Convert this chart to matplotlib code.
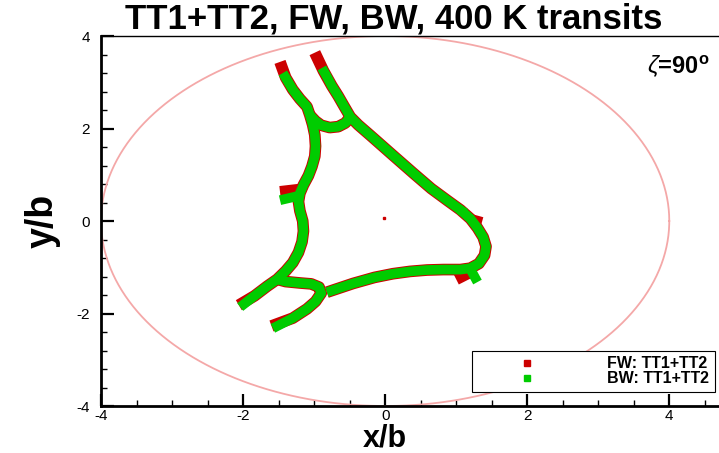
import matplotlib
matplotlib.use("Agg")
import matplotlib.pyplot as plt
import numpy as np
from matplotlib.ticker import MultipleLocator

plt.rcParams['font.family'] = ['Liberation Sans', 'DejaVu Sans']
plt.rcParams['axes.unicode_minus'] = False
plt.rcParams['mathtext.fontset'] = 'custom'
plt.rcParams['mathtext.rm'] = 'Liberation Sans:bold'
plt.rcParams['mathtext.it'] = 'Liberation Sans:italic'

# boundary circle, radius in units of b
circle_r = 4.0

# BW trajectories (green), one list per branch, (x/b, y/b)
bw_left = [(-1.44, 3.20), (-1.37, 3.02), (-1.30, 2.84), (-1.20, 2.64), (-1.10, 2.47),
           (-1.06, 2.29), (-1.02, 2.08), (-0.99, 1.86), (-0.98, 1.62), (-0.99, 1.40),
           (-1.03, 1.18), (-1.08, 0.98), (-1.15, 0.78), (-1.20, 0.60), (-1.22, 0.42),
           (-1.20, 0.22), (-1.16, 0.00), (-1.15, -0.22), (-1.17, -0.45), (-1.22, -0.68),
           (-1.30, -0.90), (-1.40, -1.08), (-1.52, -1.26), (-1.66, -1.41), (-1.84, -1.62),
           (-2.04, -1.86)]
bw_loop = [(-1.06, 2.29), (-0.98, 2.16), (-0.90, 2.07), (-0.78, 2.02), (-0.66, 2.04),
           (-0.56, 2.12), (-0.49, 2.25)]
bw_right = [(-0.89, 3.31), (-0.82, 3.12), (-0.75, 2.92), (-0.66, 2.70), (-0.57, 2.46),
            (-0.49, 2.25), (-0.38, 2.08), (-0.20, 1.84), (0.11, 1.42), (0.40, 1.03),
            (0.65, 0.70), (0.88, 0.44), (1.06, 0.24), (1.20, 0.05), (1.30, -0.15),
            (1.38, -0.35), (1.42, -0.55), (1.40, -0.74), (1.32, -0.92), (1.20, -1.02),
            (1.06, -1.05), (0.82, -1.05), (0.59, -1.06), (0.35, -1.09), (0.11, -1.14),
            (-0.15, -1.22), (-0.45, -1.35), (-0.82, -1.54)]
bw_hook = [(-1.52, -1.26), (-1.40, -1.31), (-1.20, -1.34), (-1.04, -1.36), (-0.93, -1.43),
           (-0.90, -1.56), (-0.98, -1.74), (-1.10, -1.90), (-1.30, -2.10), (-1.58, -2.32)]
bw_stubs = [[(-1.20, 0.55), (-1.48, 0.45)],
            [(1.04, 0.25), (1.13, 0.17)],
            [(1.20, -1.04), (1.30, -1.32)]]

# FW trajectories (red)
fw_left = [(-1.48, 3.44), (-1.40, 3.10)] + bw_left[2:-1] + [(-2.06, -1.82)]
fw_loop = bw_loop
fw_right = [(-0.99, 3.64), (-0.87, 3.25)] + bw_right[2:]
fw_hook = bw_hook[:-1] + [(-1.60, -2.27)]
fw_stubs = [[(-1.20, 0.68), (-1.48, 0.63)],
            [(1.22, 0.02), (1.36, -0.04)],
            [(1.18, -1.12), (1.00, -1.26)]]
fw_dot = (-0.01, 0.06)

fig = plt.figure(figsize=(7.19, 4.53), dpi=100)
ax = fig.add_axes([101 / 719, 47 / 453, 618 / 719, 370 / 453])

t = np.linspace(0, 2 * np.pi, 400)
ax.plot(circle_r * np.cos(t), circle_r * np.sin(t), color='#f4a8a8', lw=1.3)

red = '#cc0000'
green = '#00cc00'
for br in [fw_left, fw_loop, fw_right, fw_hook] + fw_stubs:
    a = np.array(br)
    ax.plot(a[:, 0], a[:, 1], color=red, lw=8.4, solid_capstyle='butt',
            solid_joinstyle='round')
ax.plot([fw_dot[0]], [fw_dot[1]], 's', color=red, ms=2)
for br in [bw_left, bw_loop, bw_right, bw_hook] + bw_stubs:
    a = np.array(br)
    ax.plot(a[:, 0], a[:, 1], color=green, lw=7.0, solid_capstyle='butt',
            solid_joinstyle='round')

# legend handles
ax.plot([], [], 's', color=red, ms=4.5, label='FW: TT1+TT2')
ax.plot([], [], 's', color=green, ms=4.5, label='BW: TT1+TT2')
leg = ax.legend(loc='lower right', bbox_to_anchor=(0.9935, 0.038), borderaxespad=0,
                handlelength=6.1, handletextpad=2.0, borderpad=0.35, labelspacing=0.0,
                fancybox=False, framealpha=1, edgecolor='black',
                prop={'weight': 'bold', 'size': 11.5})
leg.get_frame().set_linewidth(0.8)

ax.set_xlim(-4, 4.70)
ax.set_ylim(-4, 4)
ax.xaxis.set_major_locator(MultipleLocator(2))
ax.xaxis.set_minor_locator(MultipleLocator(0.5))
ax.yaxis.set_major_locator(MultipleLocator(2))
ax.yaxis.set_minor_locator(MultipleLocator(0.4))
ax.tick_params(which='major', direction='in', length=9, width=1.6, labelsize=11)
ax.tick_params(which='minor', direction='in', length=4.5, width=1.0)
ax.tick_params(axis='x', pad=2)
ax.tick_params(axis='y', pad=8)

ax.spines['right'].set_visible(False)
ax.spines['left'].set_linewidth(2)
ax.spines['bottom'].set_linewidth(2)
ax.spines['top'].set_linewidth(1)

ax.set_xlabel('x/b', fontsize=22, fontweight='bold', labelpad=0)
ax.xaxis.set_label_coords(4 / 8.7, -0.110, transform=ax.transAxes)
ax.xaxis.label.set_va('baseline')
ax.set_ylabel('y/b', fontsize=27, fontweight='bold')
ax.yaxis.set_label_coords(-0.065, 0.5)

fig.text(394 / 719, 1 - 19 / 453, 'TT1+TT2, FW, BW, 400 K transits', ha='center',
         va='center', fontsize=25, fontweight='bold')
ax.text(0.985, 0.955, r'$\zeta$=90$^{\rm o}$', transform=ax.transAxes, ha='right',
        va='top', fontsize=17, fontweight='bold')

fig.savefig('out.png', dpi=100)
